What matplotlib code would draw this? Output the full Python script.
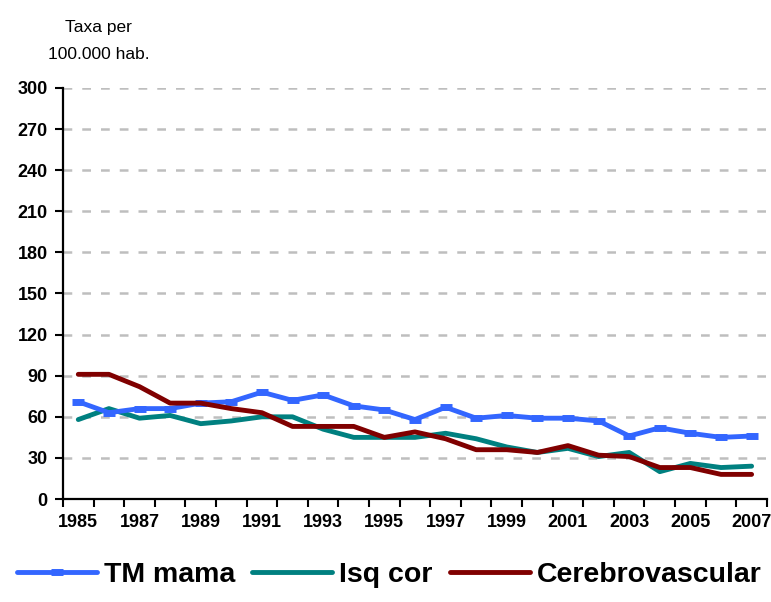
import matplotlib.pyplot as plt
import numpy as np

years = list(range(1985, 2008))
tm_mama = [71, 63, 66, 66, 70, 71, 78, 72, 76, 68, 65, 58, 67, 59, 61, 59, 59, 57, 46, 52, 48, 45, 46]
isq_cor = [58, 66, 59, 61, 55, 57, 60, 60, 51, 45, 45, 45, 48, 44, 38, 34, 37, 31, 34, 20, 26, 23, 24]
cerebro = [91, 91, 82, 70, 70, 66, 63, 53, 53, 53, 45, 49, 44, 36, 36, 34, 39, 32, 31, 23, 23, 18, 18]
yticks = list(range(0, 301, 30))

plt.rcParams['font.family'] = ['Liberation Sans', 'DejaVu Sans']

fig = plt.figure(figsize=(7.71, 6.02), dpi=100)
ax = fig.add_axes([0.0817, 0.171, 0.913, 0.683])

x = np.arange(len(years))
ax.plot(x, tm_mama, color='#3366FF', lw=3.5, marker='_', ms=9, mew=5,
        solid_joinstyle='round', solid_capstyle='round', label='TM mama', zorder=3)
ax.plot(x, isq_cor, color='#008080', lw=3.5, solid_joinstyle='round',
        solid_capstyle='round', label='Isq cor', zorder=2)
ax.plot(x, cerebro, color='#800000', lw=3.5, solid_joinstyle='round',
        solid_capstyle='round', label='Cerebrovascular', zorder=4)

ax.set_ylim(0, 300)
ax.set_xlim(-0.5, len(years) - 0.5)
ax.set_yticks(yticks)
ax.set_yticklabels([str(v) for v in yticks], fontsize=13, fontweight='bold')
for v in yticks[1:]:
    ax.axhline(v, color='#BEBEBE', lw=1.8, ls=(0, (3.5, 4)), zorder=1)

# category axis: ticks between years, labels on odd years
ax.set_xticks(np.arange(len(years) + 1) - 0.5)
ax.set_xticklabels([])
ax.set_xticks(x[::2], minor=True)
ax.set_xticklabels([str(y) for y in years[::2]], minor=True,
                   fontsize=13, fontweight='bold',
                   family=['Liberation Sans Narrow', 'Liberation Sans'])
ax.tick_params(axis='x', which='minor', length=0, pad=11)
ax.tick_params(axis='x', which='major', length=6, width=1.5, direction='out')
ax.tick_params(axis='y', length=6, width=1.5, pad=5)

for s in ['top', 'right']:
    ax.spines[s].set_visible(False)
for s in ['left', 'bottom']:
    ax.spines[s].set_linewidth(1.6)

fig.text(0.128, 0.955, 'Taxa per', fontsize=12.5, ha='center', va='center')
fig.text(0.128, 0.91, '100.000 hab.', fontsize=12.5, ha='center', va='center')

fig.legend(loc='center', bbox_to_anchor=(0.505, 0.045), ncol=3, frameon=False,
           prop={'size': 20.5, 'weight': 'bold'}, handlelength=2.8,
           handletextpad=0.25, columnspacing=0.6)

fig.savefig('out.png', dpi=100)
